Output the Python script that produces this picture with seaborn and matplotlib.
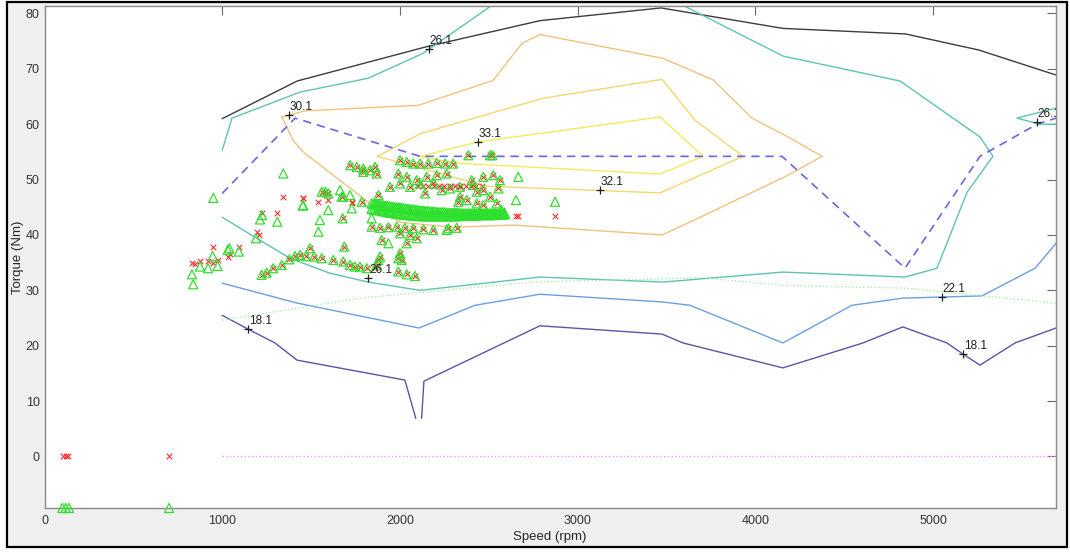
import matplotlib
matplotlib.use("Agg")
import matplotlib.pyplot as plt
import seaborn as sns
from matplotlib.patches import Rectangle

sns.set_theme(style="white")
plt.rcParams["font.family"] = ["Liberation Sans", "DejaVu Sans"]

# ---------------- curves (speed in rpm, torque in Nm) ----------------
env_speed = [1000, 1422, 2150, 2788, 3469, 4155, 4845, 5257, 5690]
env_torque = [61.0, 67.8, 74.0, 78.7, 81.0, 77.3, 76.3, 73.4, 68.9]

eff26_speed = [1000, 1055, 1438, 1821, 2130, 2640, 3480, 4156, 4814, 5264, 5337,
               5191, 5022, 4842, 4156, 3481, 2788, 2113, 1821, 1606, 1381, 1184, 1000]
eff26_torque = [55.3, 61.1, 65.8, 68.3, 72.8, 84.2, 83.3, 72.3, 67.8, 57.7, 54.2,
                47.7, 34.0, 32.4, 33.3, 31.5, 32.4, 30.0, 31.5, 33.1, 35.8, 39.6, 43.2]
eff26b_speed = [5692, 5472, 5602, 5692]
eff26b_torque = [62.9, 61.1, 60.0, 60.0]

eff30_speed = [1336, 1464, 1773, 2102, 2524, 2687, 2788, 3480, 3762, 3981, 4184, 4375,
               4184, 3689, 3475, 2638, 2300, 2001, 1843, 1455, 1398, 1336]
eff30_torque = [61.3, 62.4, 62.9, 63.4, 67.9, 74.6, 76.2, 71.9, 68.0, 61.1, 57.7, 54.2,
                50.8, 43.2, 40.0, 41.8, 41.4, 42.3, 45.4, 55.0, 57.1, 61.3]

eff32_speed = [1873, 2115, 2807, 3475, 3661, 3931, 3464, 2490, 1873]
eff32_torque = [54.2, 58.3, 64.7, 68.1, 60.7, 54.2, 47.6, 48.8, 54.2]

eff33_speed = [2113, 2439, 3464, 3706, 3464, 2301, 2113]
eff33_torque = [54.2, 56.8, 61.3, 54.2, 51.0, 53.0, 54.2]

eff22_speed = [1000, 1422, 2107, 2422, 2788, 3480, 3632, 4155, 4543, 4830, 5275, 5574, 5692]
eff22_torque = [31.3, 27.7, 23.2, 27.3, 29.3, 27.9, 27.3, 20.5, 27.3, 28.6, 29.0, 34.0, 38.5]

eff18a_speed = [1000, 1145, 1297, 1421, 2028, 2089]
eff18a_torque = [25.5, 23.0, 20.5, 17.4, 13.8, 6.9]
eff18b_speed = [2122, 2135, 2788, 3475, 3593, 4155, 4605, 4830, 5078, 5168, 5264, 5461, 5692]
eff18b_torque = [6.9, 13.6, 23.6, 22.1, 20.5, 16.0, 20.5, 23.4, 20.5, 18.5, 16.5, 20.5, 23.2]

best_speed = [1000, 1410, 2113, 4150, 4842, 5264, 5585, 5692]
best_torque = [47.5, 61.1, 54.2, 54.2, 34.0, 54.2, 60.0, 61.1]

base_speed = [1000, 1776, 2749, 3700, 4155, 4842, 5690]
base_torque = [24.6, 28.6, 31.5, 32.3, 30.9, 30.4, 27.7]

zero_speed = [1000, 5690]
zero_torque = [0.0, 0.0]

# ---------------- contour labels ----------------
lab_text = ["26.1", "30.1", "33.1", "32.1", "26.1", "26.1", "22.1", "18.1", "18.1"]
lab_speed = [2163, 1376, 2439, 3126, 1822, 5585, 5051, 1145, 5168]
lab_torque = [73.5, 61.6, 56.8, 48.1, 32.2, 60.4, 28.8, 23.0, 18.5]

# ---------------- operating points ----------------
meas_speed = [
    830, 845, 875, 920, 946, 978, 950, 1093, 1034, 1045, 1194, 1209, 1224, 1310, 1340, 1453,
    1222, 1250, 1287, 1335, 1378, 1410, 1438, 1471, 1494, 1517, 1560, 1625, 1681, 1719,
    1747, 1775, 1813, 1869, 1860,
    1541, 1597, 1456, 1560, 1580, 1597, 1672, 1678, 1729, 1785, 1729, 1687,
    1720, 1757, 1794, 1832, 1869, 1794, 1860,
    2000, 2038, 2075, 2113, 2160, 2207, 2254, 2300,
    1991, 2038, 2094, 2150, 2207, 2263, 2000, 2057, 2113, 2188, 2141, 2235, 1879, 1944,
    2100, 2130, 2160, 2190, 2220, 2250, 2280, 2310, 2340, 2370, 2400, 2430, 2460,
    2404, 2469, 2525, 2563, 2282, 2338, 2413, 2432, 2469, 2554, 2329, 2338, 2432, 2469,
    2507, 2544, 2573, 2376,
    2653, 2662, 2873, 2385, 2507, 2520,
    1841, 1888, 1935, 1982, 2028, 2075, 2132, 2188, 2272, 2319, 1897, 2000, 2057, 2094,
    2038, 2000, 1991, 2010, 1888, 1879, 1991, 2038, 2085,
    1900, 2000, 2100, 2200,
    106, 119, 134, 701]
meas_torque = [
    35.0, 34.8, 35.3, 35.3, 34.9, 35.5, 37.9, 37.9, 36.1, 36.5, 40.6, 40.0, 43.9, 43.9, 46.8, 46.6,
    32.8, 33.2, 34.0, 34.6, 35.6, 36.2, 36.4, 36.2, 37.6, 36.1, 35.8, 35.5, 35.2, 34.6,
    34.3, 34.3, 34.0, 34.6, 34.0,
    46.0, 46.3, 46.6, 47.8, 47.7, 47.5, 46.9, 43.0, 46.0, 46.0, 45.7, 37.9,
    52.6, 52.3, 52.0, 51.7, 51.1, 51.4, 52.3,
    53.5, 53.2, 52.9, 52.9, 52.9, 53.0, 52.9, 52.9,
    51.1, 50.5, 49.9, 50.5, 50.8, 51.1, 49.3, 48.7, 49.3, 49.3, 47.5, 48.1, 47.2, 48.7,
    48.8, 48.8, 48.9, 48.8, 48.8, 48.9, 48.8, 48.8, 48.8, 48.9, 48.8, 48.8, 48.8,
    49.9, 50.5, 50.8, 49.9, 48.4, 48.7, 49.0, 47.8, 48.1, 48.4, 46.0, 46.9, 45.7, 45.4,
    46.9, 45.7, 44.5, 46.3,
    43.4, 43.4, 43.4, 54.4, 54.4, 54.4,
    41.5, 41.3, 41.4, 41.5, 41.3, 41.2, 41.0, 40.9, 41.2, 41.3, 39.1, 40.3, 40.0, 39.4,
    38.5, 36.7, 35.8, 35.5, 36.1, 35.5, 33.4, 32.9, 32.6,
    45.0, 44.5, 44.0, 44.2,
    0.0, 0.0, 0.0, 0.0]

sim_speed = [
    950, 1344, 1453, 1213, 1224, 1310, 1190, 1040, 1031, 1093, 946, 875, 920, 974, 830, 837,
    1222, 1250, 1287, 1335, 1378, 1410, 1438, 1471, 1494, 1517, 1560, 1625, 1681, 1719,
    1747, 1775, 1813, 1869,
    1550, 1541, 1597, 1456, 1663, 1672, 1681, 1719, 1729, 1785, 1841, 1560, 1580, 1597,
    1678, 1687,
    1720, 1757, 1794, 1832, 1869, 1794, 1860,
    2000, 2038, 2075, 2113, 2160, 2207, 2254, 2300,
    1991, 2038, 2094, 2150, 2207, 2263, 2000, 2057, 2113, 2188, 2141, 2235, 1879, 1944,
    2404, 2469, 2525, 2563, 2282, 2338, 2413, 2432, 2469, 2554, 2329, 2338, 2432, 2469,
    2507, 2544, 2573, 2376,
    2666, 2653, 2873, 2385, 2507, 2520,
    1841, 1888, 1935, 1982, 2028, 2075, 2132, 2188, 2272, 2319, 2263, 1897, 1935, 2000,
    2057, 2094, 2038, 2000, 1991, 2010, 1888, 1879, 1991, 2038, 2085]
sim_torque = [
    46.7, 51.1, 45.3, 42.8, 43.6, 42.4, 39.4, 37.6, 37.3, 37.0, 36.2, 34.3, 34.0, 34.4, 32.9, 31.1,
    32.8, 33.2, 34.0, 34.6, 35.6, 36.2, 36.4, 36.2, 37.6, 36.1, 35.8, 35.5, 35.2, 34.6,
    34.3, 34.3, 34.0, 34.6,
    42.7, 40.6, 44.5, 45.4, 48.1, 46.9, 46.9, 47.2, 44.8, 46.0, 43.0, 47.8, 47.8, 47.5,
    43.0, 37.9,
    52.6, 52.3, 52.0, 51.7, 51.1, 51.4, 52.3,
    53.5, 53.2, 52.9, 52.9, 52.9, 53.0, 52.9, 52.9,
    51.1, 50.5, 49.9, 50.5, 50.8, 51.1, 49.3, 48.7, 49.3, 49.3, 47.5, 48.1, 47.2, 48.7,
    49.9, 50.5, 50.8, 49.9, 48.4, 48.7, 49.0, 47.8, 48.1, 48.4, 46.0, 46.9, 45.7, 45.4,
    46.9, 45.7, 44.5, 46.3,
    50.5, 46.3, 46.0, 54.4, 54.4, 54.4,
    41.5, 41.3, 41.4, 41.5, 41.3, 41.2, 41.0, 40.9, 41.2, 41.3, 40.9, 39.1, 38.5, 40.3,
    40.0, 39.4, 38.5, 36.7, 35.8, 35.5, 36.1, 35.5, 33.4, 32.9, 32.6]

# dense cruise band of simulated points (10 rpm spacing, upper and lower edge)
band_speed = [
    1840, 1850, 1860, 1870, 1880, 1890, 1900, 1910, 1920, 1930,
    1940, 1950, 1960, 1970, 1980, 1990, 2000, 2010, 2020, 2030,
    2040, 2050, 2060, 2070, 2080, 2090, 2100, 2110, 2120, 2130,
    2140, 2150, 2160, 2170, 2180, 2190, 2200, 2210, 2220, 2230,
    2240, 2250, 2260, 2270, 2280, 2290, 2300, 2310, 2320, 2330,
    2340, 2350, 2360, 2370, 2380, 2390, 2400, 2410, 2420, 2430,
    2440, 2450, 2460, 2470, 2480, 2490, 2500, 2510, 2520, 2530,
    2540, 2550, 2560, 2570, 2580, 2590]
band_torque_hi = [
    45.7, 45.6, 45.6, 45.5, 45.5, 45.4, 45.4, 45.3, 45.3, 45.2,
    45.2, 45.1, 45.1, 45.0, 45.0, 45.0, 44.9, 44.9, 44.8, 44.8,
    44.7, 44.7, 44.6, 44.6, 44.6, 44.5, 44.5, 44.4, 44.4, 44.4,
    44.3, 44.3, 44.3, 44.2, 44.2, 44.2, 44.2, 44.1, 44.1, 44.1,
    44.1, 44.1, 44.0, 44.0, 44.0, 44.0, 44.0, 44.0, 44.0, 44.0,
    43.9, 43.9, 43.9, 43.9, 43.9, 43.9, 43.9, 43.9, 43.9, 43.9,
    43.9, 43.9, 43.9, 43.9, 43.9, 43.9, 43.9, 43.9, 43.9, 43.9,
    43.9, 43.9, 43.9, 43.9, 43.9, 43.9]
band_torque_lo = [
    44.7, 44.6, 44.6, 44.5, 44.5, 44.4, 44.3, 44.3, 44.2, 44.1,
    44.1, 44.0, 44.0, 43.9, 43.9, 43.8, 43.8, 43.7, 43.7, 43.7,
    43.6, 43.6, 43.6, 43.5, 43.5, 43.5, 43.5, 43.4, 43.4, 43.4,
    43.4, 43.4, 43.4, 43.4, 43.4, 43.4, 43.4, 43.4, 43.4, 43.4,
    43.4, 43.4, 43.4, 43.4, 43.4, 43.4, 43.4, 43.4, 43.4, 43.4,
    43.5, 43.5, 43.5, 43.5, 43.5, 43.5, 43.5, 43.5, 43.5, 43.5,
    43.6, 43.6, 43.6, 43.6, 43.6, 43.6, 43.6, 43.6, 43.6, 43.6,
    43.7, 43.7, 43.7, 43.7, 43.7, 43.7]

idle_speed = [100, 119, 138, 701]
idle_torque = [-9.3, -9.3, -9.3, -9.3]

# ---------------- figure ----------------
fig = plt.figure(figsize=(10.7, 5.52), dpi=100)
fig.patch.set_facecolor("white")
frame = Rectangle((7 / 1070, 5 / 552), 1060 / 1070, 545 / 552,
                  transform=fig.transFigure, facecolor="#f0f0f0",
                  edgecolor="black", linewidth=1.6, zorder=-10)
fig.add_artist(frame)
ax = fig.add_axes([44.5 / 1070, 44 / 552, 1011.2 / 1070, 502.3 / 552])
ax.set_zorder(1)
ax.set_facecolor("white")

line_kw = dict(sort=False, estimator=None, ax=ax, legend=False)
sns.lineplot(x=env_speed, y=env_torque, color="#3c3c3c", lw=1.0, **line_kw)
sns.lineplot(x=eff26_speed, y=eff26_torque, color="#5ec4b0", lw=1.0, **line_kw)
sns.lineplot(x=eff26b_speed, y=eff26b_torque, color="#5ec4b0", lw=1.0, **line_kw)
sns.lineplot(x=eff30_speed, y=eff30_torque, color="#f0c27e", lw=1.0, **line_kw)
sns.lineplot(x=eff32_speed, y=eff32_torque, color="#f3d76e", lw=1.0, **line_kw)
sns.lineplot(x=eff33_speed, y=eff33_torque, color="#f6e95c", lw=1.0, **line_kw)
sns.lineplot(x=eff22_speed, y=eff22_torque, color="#6c9ee3", lw=1.0, **line_kw)
sns.lineplot(x=eff18a_speed, y=eff18a_torque, color="#5a55a6", lw=1.0, **line_kw)
sns.lineplot(x=eff18b_speed, y=eff18b_torque, color="#5a55a6", lw=1.0, **line_kw)
sns.lineplot(x=best_speed, y=best_torque, color="#6a66e0", lw=1.2, ls=(0, (5, 3.5)), **line_kw)
sns.lineplot(x=base_speed, y=base_torque, color="#a6eca6", lw=1.0, ls=":", **line_kw)
sns.lineplot(x=zero_speed, y=zero_torque, color="#ff90ff", lw=1.0, ls=":", **line_kw)

# operating points: red crosses and open green triangles
sns.scatterplot(x=meas_speed, y=meas_torque, marker="x", color="#f23030", s=16,
                linewidth=0.8, ax=ax, legend=False, zorder=4)
tri_kw = dict(marker="^", facecolor="none", edgecolor="#2ee02e", s=42,
              linewidth=0.9, ax=ax, legend=False, zorder=5)
sns.scatterplot(x=sim_speed, y=sim_torque, **tri_kw)
sns.scatterplot(x=band_speed, y=band_torque_hi, **tri_kw)
sns.scatterplot(x=band_speed, y=band_torque_lo, **tri_kw)
sns.scatterplot(x=idle_speed, y=idle_torque, **tri_kw)
ax.collections[-1].set_clip_on(False)

# contour labels
for txt, sx, ty in zip(lab_text, lab_speed, lab_torque):
    ax.plot(sx, ty, marker="+", color="#202020", ms=6, mew=0.9, zorder=6)
    ax.annotate(txt, (sx, ty), xytext=(0.5, 1.5), textcoords="offset points",
                ha="left", va="bottom", fontsize=8.5, color="#202020",
                annotation_clip=True, clip_on=True, zorder=6)

ax.set_xlim(0, 5690)
ax.set_ylim(-9.3, 81.4)
ax.set_xticks([0, 1000, 2000, 3000, 4000, 5000])
ax.set_yticks([0, 10, 20, 30, 40, 50, 60, 70, 80])
ax.tick_params(axis="both", direction="in", length=6.5, width=0.8, color="#6a6a6a",
               labelsize=9, labelcolor="#333333", top=True, right=True,
               labeltop=False, labelright=False)
ax.tick_params(axis="x", pad=5)
ax.tick_params(axis="y", pad=3.5)
for sp in ax.spines.values():
    sp.set_color("#8a8a8a")
    sp.set_linewidth(1.0)
ax.set_xlabel("Speed (rpm)", fontsize=9.5, color="#262626", labelpad=3)
ax.set_ylabel("Torque (Nm)", fontsize=9.5, color="#262626", labelpad=1)

fig.savefig("out.png", dpi=100)
